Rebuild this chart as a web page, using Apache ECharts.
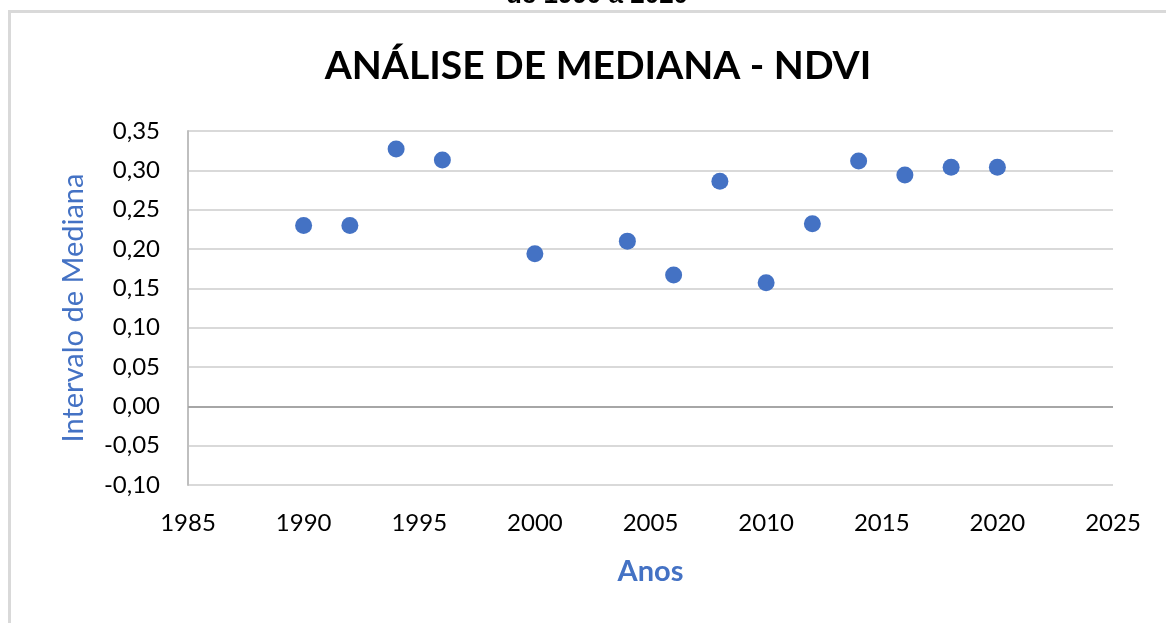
<!DOCTYPE html>
<html lang="pt">
<head>
    <meta charset="UTF-8">
    <title>Análise de Mediana - NDVI</title>
    <script src="https://cdn.jsdelivr.net/npm/echarts@6/dist/echarts.min.js"></script>
    <style>
        html, body { margin: 0; padding: 0; background: #fff; }
    </style>
</head>
<body>
<div id="grafico" style="width: 1166px;height:623px;"></div>
<script type="text/javascript">
    // dados
    var anos = [1990, 1992, 1994, 1996, 2000, 2004, 2006, 2008, 2010, 2012, 2014, 2016, 2018, 2020];
    var mediana = [0.230, 0.230, 0.327, 0.313, 0.194, 0.210, 0.167, 0.286, 0.157, 0.232, 0.312, 0.294, 0.304, 0.304];

    var azul = '#4472C4';
    var fonte = 'Lato, "Open Sans", sans-serif';

    var pontos = anos.map(function (a, i) {
        return [a, mediana[i]];
    });

    var myChart = echarts.init(document.getElementById('grafico'));

    var option = {
        backgroundColor: '#fff',
        animation: false,
        graphic: [
            {
                type: 'rect',
                shape: { x: 9.5, y: 11.5, width: 1200, height: 700 },
                style: { fill: 'none', stroke: '#d9d9d9', lineWidth: 3 }
            },
            {
                type: 'text',
                x: 597,
                y: -4,
                style: {
                    text: 'de 1990 a 2020',
                    font: 'bold 26px "Liberation Sans", Arial, sans-serif',
                    fill: '#000',
                    align: 'center',
                    verticalAlign: 'middle'
                }
            }
        ],
        title: {
            text: 'ANÁLISE DE MEDIANA - NDVI',
            left: 593,
            textAlign: 'center',
            top: 42,
            textStyle: {
                fontFamily: fonte,
                fontSize: 39,
                fontWeight: 'bold',
                color: '#000'
            }
        },
        grid: {
            left: 188,
            right: 53,
            top: 131,
            bottom: 138
        },
        xAxis: {
            type: 'value',
            min: 1985,
            max: 2025,
            interval: 5,
            name: 'Anos',
            nameLocation: 'middle',
            nameGap: 72,
            nameTextStyle: {
                color: azul,
                fontFamily: fonte,
                fontSize: 29,
                fontWeight: 'bold'
            },
            axisLine: { show: false },
            axisTick: { show: false },
            splitLine: { show: false },
            axisLabel: {
                margin: 26,
                color: '#000',
                fontFamily: fonte,
                fontSize: 24,
                formatter: function (v) {
                    return String(v);
                }
            }
        },
        yAxis: {
            type: 'value',
            min: -0.1,
            max: 0.35,
            interval: 0.05,
            name: 'Intervalo de Mediana',
            nameLocation: 'middle',
            nameGap: 100,
            nameTextStyle: {
                color: azul,
                fontFamily: fonte,
                fontSize: 29
            },
            axisLine: { show: true, lineStyle: { color: '#bfbfbf', width: 2 } },
            axisTick: { show: false },
            splitLine: { lineStyle: { color: '#d9d9d9', width: 2 } },
            axisLabel: {
                margin: 28,
                color: '#000',
                fontFamily: fonte,
                fontSize: 24,
                formatter: function (v) {
                    return v.toFixed(2).replace('.', ',');
                }
            }
        },
        series: [{
            name: 'Mediana NDVI',
            type: 'scatter',
            data: pontos,
            symbolSize: 17,
            itemStyle: { color: azul, opacity: 1 },
            markLine: {
                silent: true,
                symbol: 'none',
                label: { show: false },
                lineStyle: { color: '#a6a6a6', width: 2, type: 'solid' },
                data: [{ yAxis: 0 }]
            }
        }]
    };

    myChart.setOption(option);
</script>
</body>
</html>
